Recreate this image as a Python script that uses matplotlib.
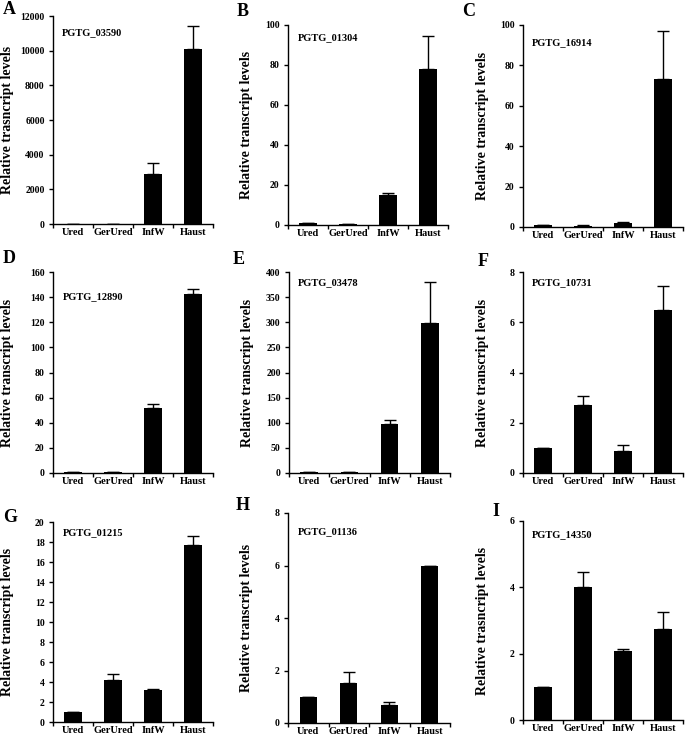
import numpy as np
import matplotlib
matplotlib.use('Agg')
import matplotlib.pyplot as plt
import matplotlib.transforms as mtransforms

plt.rcParams['font.family'] = 'Liberation Serif'
plt.rcParams['font.weight'] = 'bold'

categories = ['Ured', 'GerUred', 'InfW', 'Haust']

# данные по панелям
letters = ['A', 'B', 'C', 'D', 'E', 'F', 'G', 'H', 'I']
genes = ['PGTG_03590', 'PGTG_01304', 'PGTG_16914', 'PGTG_12890', 'PGTG_03478',
         'PGTG_10731', 'PGTG_01215', 'PGTG_01136', 'PGTG_14350']
values = [
    [1, 1, 2900, 10100],
    [1, 0.3, 15.2, 78],
    [1, 0.7, 2.0, 73.5],
    [1, 1, 52, 142.5],
    [1, 2, 97, 298],
    [1, 2.72, 0.87, 6.48],
    [1.05, 4.2, 3.2, 17.7],
    [1.0, 1.52, 0.7, 5.97],
    [1.0, 4.0, 2.08, 2.75],
]
errors = [
    [0, 0, 600, 1350],
    [0.1, 0.1, 0.8, 16.5],
    [0.1, 0.1, 0.4, 23.5],
    [0.1, 0.1, 3, 4],
    [0.1, 0.1, 8, 83],
    [0, 0.35, 0.25, 0.98],
    [0, 0.6, 0.1, 0.95],
    [0, 0.43, 0.1, 0.02],
    [0, 0.47, 0.06, 0.52],
]
ymax = [12000, 100, 100, 160, 400, 8, 20, 8, 6]
ystep = [2000, 20, 20, 20, 50, 2, 2, 2, 2]
ylabels = ['Relative trasncript levels'] + ['Relative transcript levels'] * 7 + ['Relative trasncript levels']

W, H = 685, 736
# рамки осей в пикселях: left, top, right, bottom
boxes = [(53, 16, 213, 224), (288, 25, 448, 225), (523, 25, 683, 227),
         (53, 272, 213, 473), (289, 272, 450, 473), (523, 272, 683, 473),
         (53, 522, 213, 722), (288, 513, 450, 723), (523, 521, 683, 720)]
letter_pos = [(3, 10), (237, 12), (462, 12), (3, 258), (233, 260), (478, 262),
              (3, 517), (236, 505), (492, 512)]
gene_pos = [(62, 33), (298, 38), (532, 43), (63, 297), (298, 283), (532, 283),
            (63, 533), (298, 532), (532, 535)]
# правый край подписи оси Y (в пикселях)
ylab_x = [14, 253, 489, 14, 254, 489, 14, 253, 489]

fig = plt.figure(figsize=(W / 100, H / 100), dpi=100)

for i in range(9):
    l, t, r, b = boxes[i]
    ax = fig.add_axes([l / W, 1 - b / H, (r - l) / W, (b - t) / H])
    x = np.arange(len(categories))
    ax.bar(x, values[i], width=0.43, color='black', zorder=2)
    ax.errorbar(x, values[i], yerr=[np.zeros(4), errors[i]], fmt='none',
                ecolor='black', elinewidth=1, capsize=4, capthick=1, zorder=3)
    ax.set_xlim(-0.5, 3.5)
    ax.set_ylim(0, ymax[i])
    ax.set_yticks(np.arange(0, ymax[i] + ystep[i] / 2, ystep[i]))
    ax.set_xticks(x)
    ax.set_xticklabels(categories, fontsize=7.5, fontweight='bold')
    ax.set_xticks(np.arange(-0.5, 4, 1), minor=True)
    ax.tick_params(axis='x', which='major', length=0, pad=3)
    ax.tick_params(axis='x', which='minor', length=3, width=1, direction='out')
    ax.tick_params(axis='y', length=3, width=1, labelsize=7, pad=3)
    for lab in ax.get_yticklabels():
        lab.set_fontweight('bold')
    for s in ['top', 'right']:
        ax.spines[s].set_visible(False)
    for s in ['left', 'bottom']:
        ax.spines[s].set_linewidth(1)
    ax.set_ylabel(ylabels[i], fontsize=10, fontweight='bold')
    tr = mtransforms.blended_transform_factory(fig.transFigure, ax.transAxes)
    ax.yaxis.set_label_coords(ylab_x[i] / W, 0.5, transform=tr)
    gx, gy = gene_pos[i]
    fig.text(gx / W, 1 - gy / H, genes[i], fontsize=7.5, fontweight='bold',
             ha='left', va='center')
    lx, ly = letter_pos[i]
    fig.text(lx / W, 1 - ly / H, letters[i], fontsize=13, fontweight='bold',
             ha='left', va='center')

fig.savefig('out.png', dpi=100)
